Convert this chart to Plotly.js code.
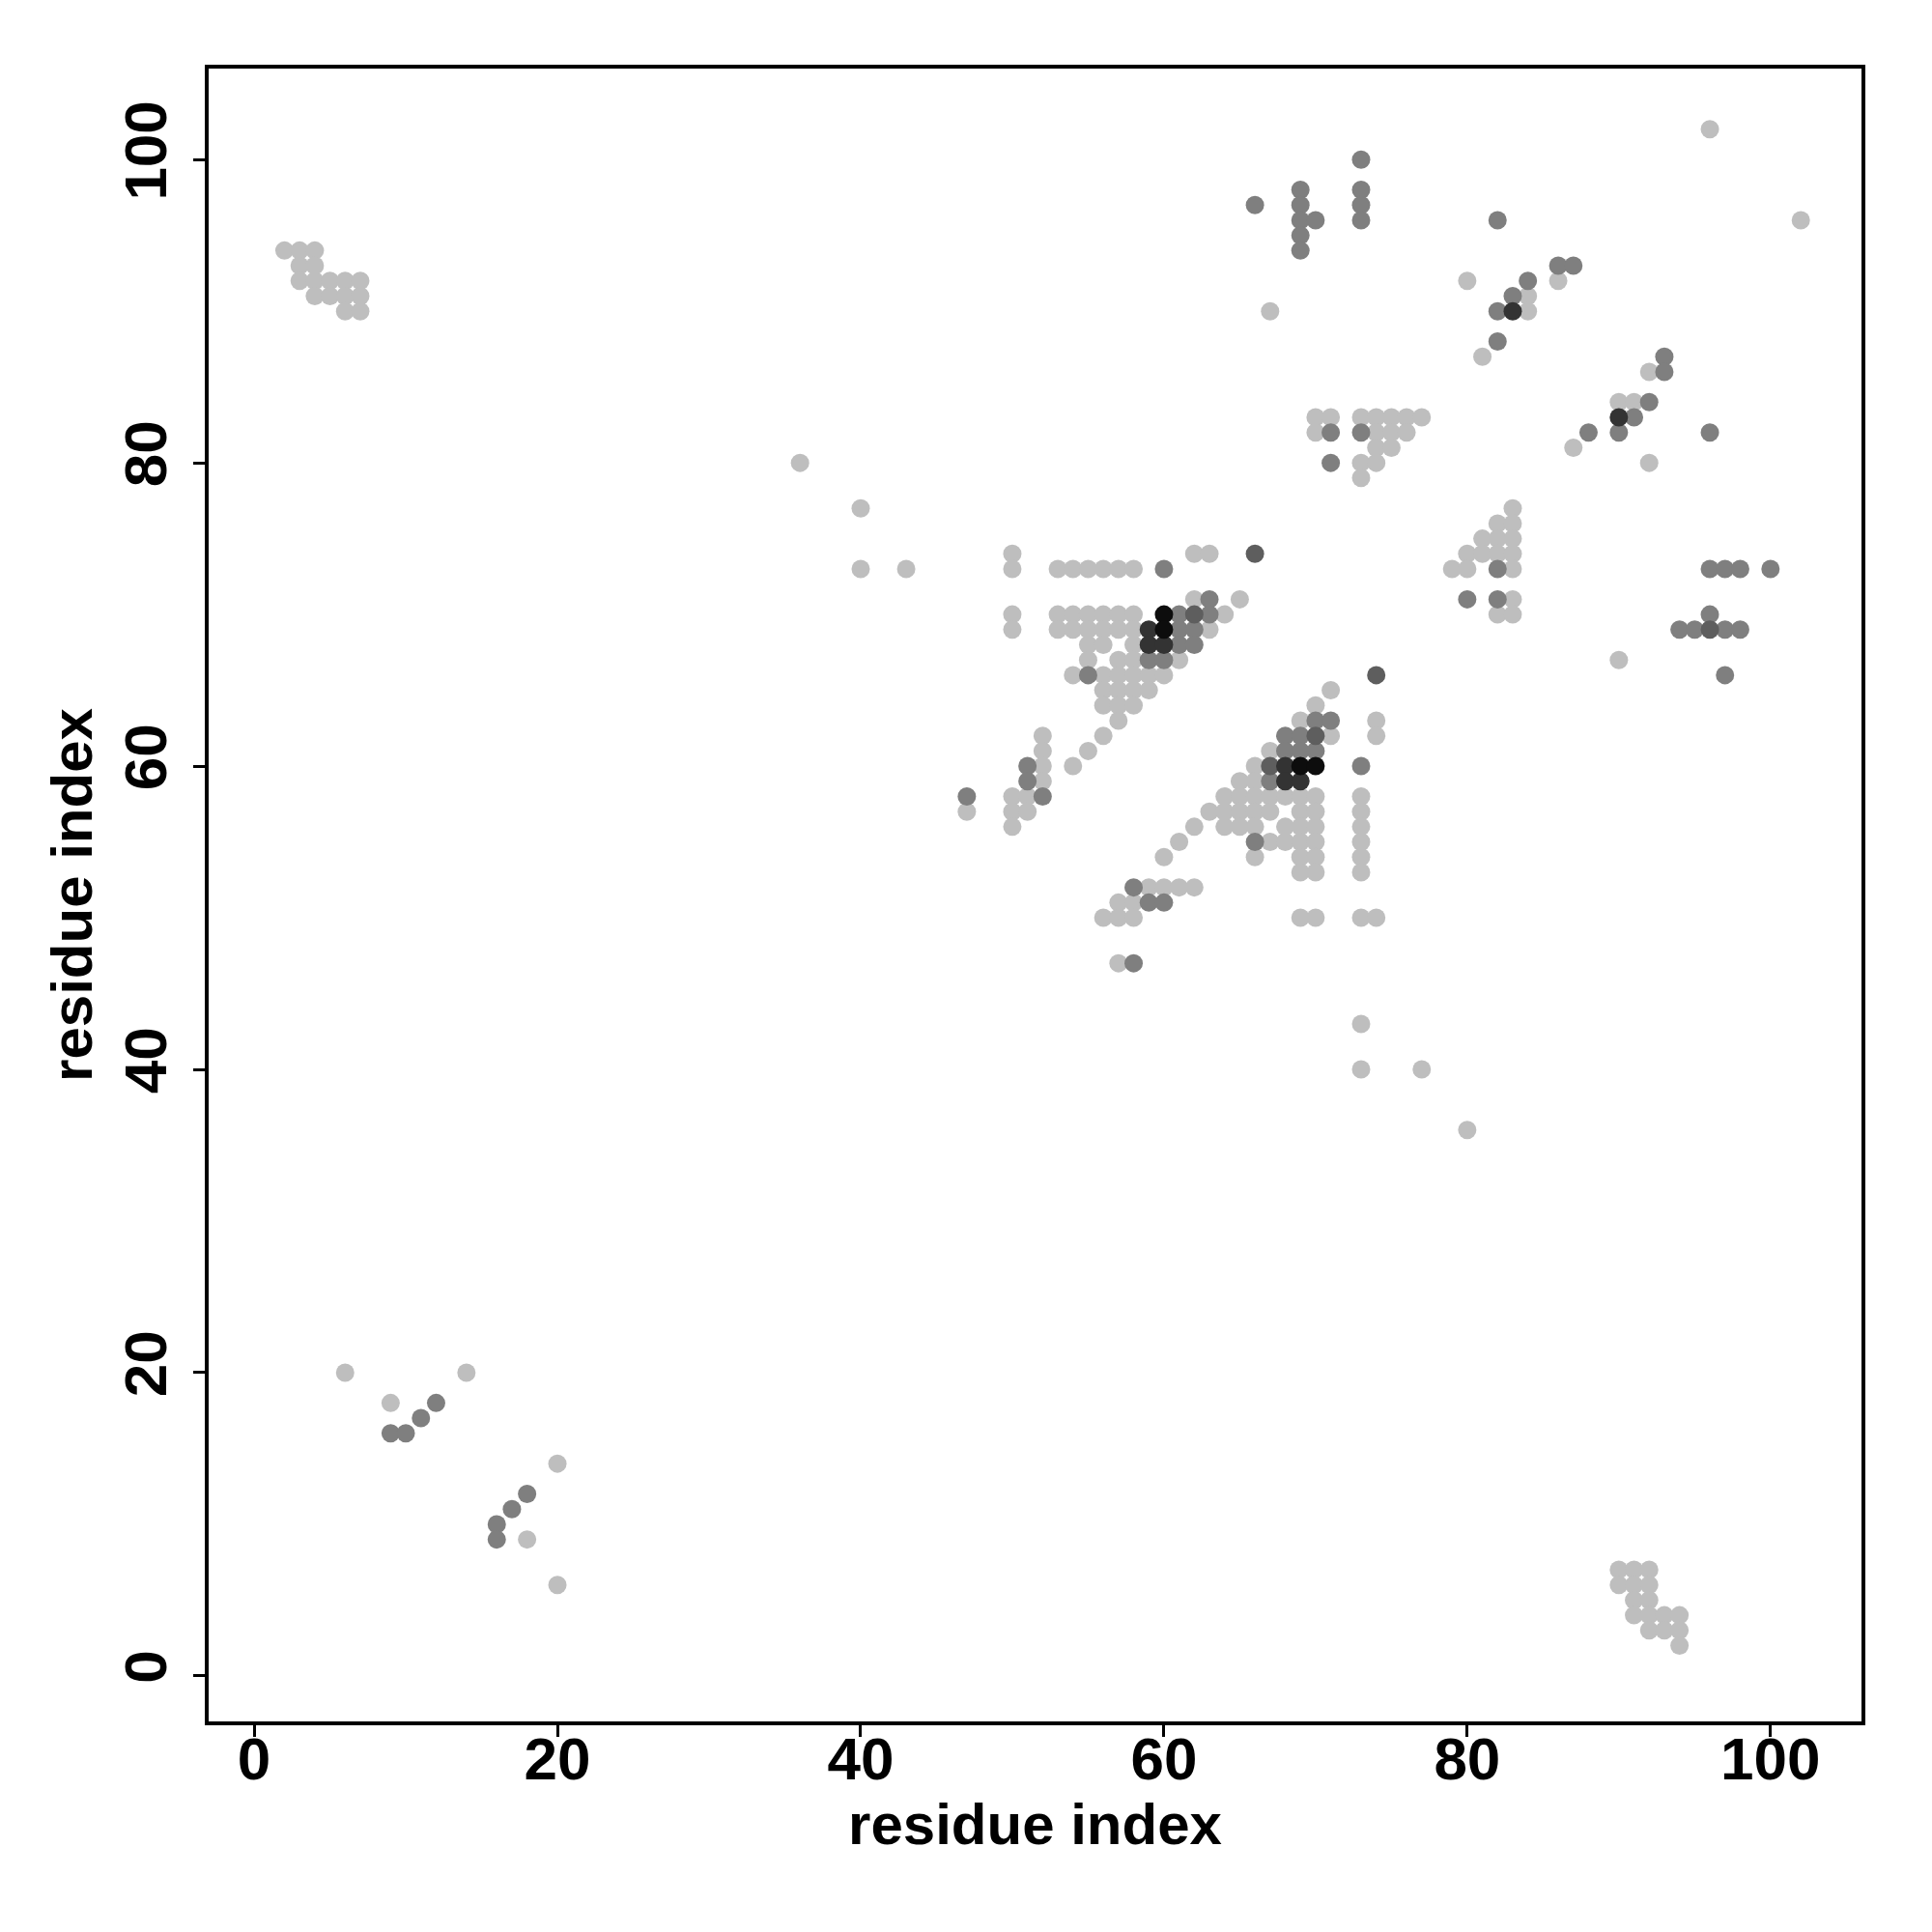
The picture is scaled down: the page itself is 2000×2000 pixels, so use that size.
<!DOCTYPE html>
<html>
<head>
<meta charset="utf-8">
<script src="https://cdn.plot.ly/plotly-3.0.1.min.js"></script>
<style>html,body{margin:0;padding:0;background:#fff;}#chart{width:2000px;height:2000px;}</style>
</head>
<body>
<div id="chart"></div>
<script>
// ---- data: [residue i, residue j] contact pairs, grouped by shade ----
const lightTopLeft = [[2,94],[3,94],[4,94],[3,93],[4,93],[3,92],[4,92],[5,92],[6,92],[7,92],[4,91],[5,91],[6,91],[7,91],[6,90],[7,90]];
const lightBottomLeft = [[6,20],[14,20],[9,18],[20,14],[18,9],[20,6]];
const lightBottomRight = [[90,7],[91,7],[92,7],[90,6],[91,6],[92,6],[91,5],[92,5],[91,4],[92,4],[93,4],[94,4],[92,3],[93,3],[94,3],[94,2]];
const lightIsolated = [[36,80],[40,77],[40,73],[43,73],[73,43],[73,40],[77,40],[80,36]];
const lightUpperTri = [
  [50,74],[62,74],[63,74],
  [50,73],[53,73],[54,73],[55,73],[56,73],[57,73],[58,73],
  [62,71],[65,71],
  [50,70],[53,70],[54,70],[55,70],[56,70],[57,70],[58,70],[64,70],
  [50,69],[53,69],[54,69],[55,69],[56,69],[57,69],[58,69],[63,69],
  [55,68],[56,68],[58,68],
  [55,67],[57,67],[58,67],[61,67],
  [54,66],[56,66],[57,66],[58,66],[59,66],[60,66],
  [56,65],[57,65],[58,65],[59,65],
  [56,64],[57,64],[58,64],
  [57,63],
  [52,62],[56,62],
  [52,61],[55,61],
  [52,60],[54,60],
  [52,59],
  [50,58],[51,58],
  [47,57],[50,57],[51,57],
  [50,56]
];
const lightLowerTri = [
  [71,65],[70,64],[69,63],[74,63],[71,62],[74,62],[67,61],[66,60],[65,59],[66,59],
  [64,58],[65,58],[66,58],[67,58],[68,58],[69,58],[70,58],[73,58],
  [63,57],[64,57],[65,57],[66,57],[67,57],[69,57],[70,57],[73,57],
  [62,56],[64,56],[65,56],[66,56],[68,56],[69,56],[70,56],[73,56],
  [61,55],[67,55],[68,55],[69,55],[70,55],[73,55],
  [60,54],[66,54],[69,54],[70,54],[73,54],
  [69,53],[70,53],[73,53],
  [59,52],[60,52],[61,52],[62,52],
  [57,51],[58,51],
  [56,50],[57,50],[58,50],[69,50],[70,50],[73,50],[74,50],
  [57,47]
];
const lightUpperRight = [
  [70,83],[71,83],[73,83],[74,83],[75,83],[76,83],[77,83],
  [70,82],[74,82],[75,82],[76,82],[74,81],[75,81],[73,80],[74,80],[73,79],
  [67,90],[80,92],[81,87],[96,102],[102,96],[86,92],[84,91],[84,90],[92,86],[90,84],[91,84],[87,81],[92,80]
];
const lightRightMid = [[83,77],[82,76],[83,76],[81,75],[82,75],[83,75],[80,74],[81,74],[82,74],[83,74],[79,73],[80,73],[83,73],[83,71],[82,70],[83,70],[90,67]];

const mediumBottomLeft = [[12,18],[11,17],[9,16],[10,16],[18,12],[17,11],[16,10],[16,9]];
const mediumCentral = [
  [60,73],[63,71],[61,70],[63,70],[61,69],[62,69],[61,68],[62,68],[59,67],[60,67],[55,66],[51,60],[51,59],[47,58],[52,58],
  [70,63],[71,63],[68,62],[69,62],[68,61],[69,61],[70,61],[67,59],[66,55],[58,52],[59,51],[60,51],[58,47],[73,60]
];
const mediumUpperRight = [[73,100],[69,98],[73,98],[66,97],[69,97],[73,97],[69,96],[70,96],[73,96],[69,95],[69,94],[82,96],[86,93],[87,93],[84,92],[83,91],[82,90],[82,88],[93,87],[93,86],[92,84],[91,83],[88,82],[90,82],[96,82],[71,82],[73,82],[71,80]];
const mediumRightMid = [[82,73],[80,71],[82,71],[96,73],[97,73],[98,73],[100,73],[96,70],[94,69],[95,69],[97,69],[98,69],[97,66]];
const mediumDarkPairs = [[66,74],[74,66],[62,70],[70,62],[67,60],[96,69]];
const darkPairs = [[59,69],[59,68],[60,68],[68,60],[68,59],[69,59],[83,90],[90,83]];
const blackPairs = [[60,70],[60,69],[69,60],[70,60]];

const tickValues = [0, 20, 40, 60, 80, 100];
const axisLabel = 'residue index';

function mk(pairs, color) {
  return {
    type: 'scatter', mode: 'markers',
    x: pairs.map(p => p[0]), y: pairs.map(p => p[1]),
    marker: {color: color, size: 19, line: {width: 0}},
    hoverinfo: 'x+y', showlegend: false
  };
}

const light = [].concat(lightTopLeft, lightBottomLeft, lightBottomRight, lightIsolated, lightUpperTri, lightLowerTri, lightUpperRight, lightRightMid);
const medium = [].concat(mediumBottomLeft, mediumCentral, mediumUpperRight, mediumRightMid);

const traces = [
  mk(light, '#bebebe'),
  mk(medium, '#7f7f7f'),
  mk(mediumDarkPairs, '#5e5e5e'),
  mk(darkPairs, '#333333'),
  mk(blackPairs, '#0d0d0d')
];

const fontBase = {family: 'Liberation Sans, Arial, sans-serif', size: 62, color: '#000', weight: 700};
const titleFont = {family: 'Liberation Sans, Arial, sans-serif', size: 60, color: '#000', weight: 700};

const axisCommon = {
  range: [-3, 106], tickvals: tickValues, ticktext: tickValues.map(String),
  ticks: 'outside', ticklen: 12, tickwidth: 3, tickcolor: '#000',
  showline: true, linewidth: 4, linecolor: '#000', mirror: true,
  showgrid: false, zeroline: false,
  tickfont: fontBase
};

const layout = {
  width: 2000, height: 2000,
  paper_bgcolor: '#fff', plot_bgcolor: '#fff',
  margin: {l: 216, r: 73, t: 71, b: 218},
  xaxis: Object.assign({}, axisCommon, {
    ticklabelstandoff: -30,
    title: {text: axisLabel, font: titleFont, standoff: 14}
  }),
  yaxis: Object.assign({}, axisCommon, {
    tickangle: -90,
    ticklabelstandoff: 3,
    title: {text: axisLabel, font: titleFont, standoff: 2}
  })
};

Plotly.newPlot('chart', traces, layout, {displayModeBar: false, staticPlot: true});
</script>
</body>
</html>
